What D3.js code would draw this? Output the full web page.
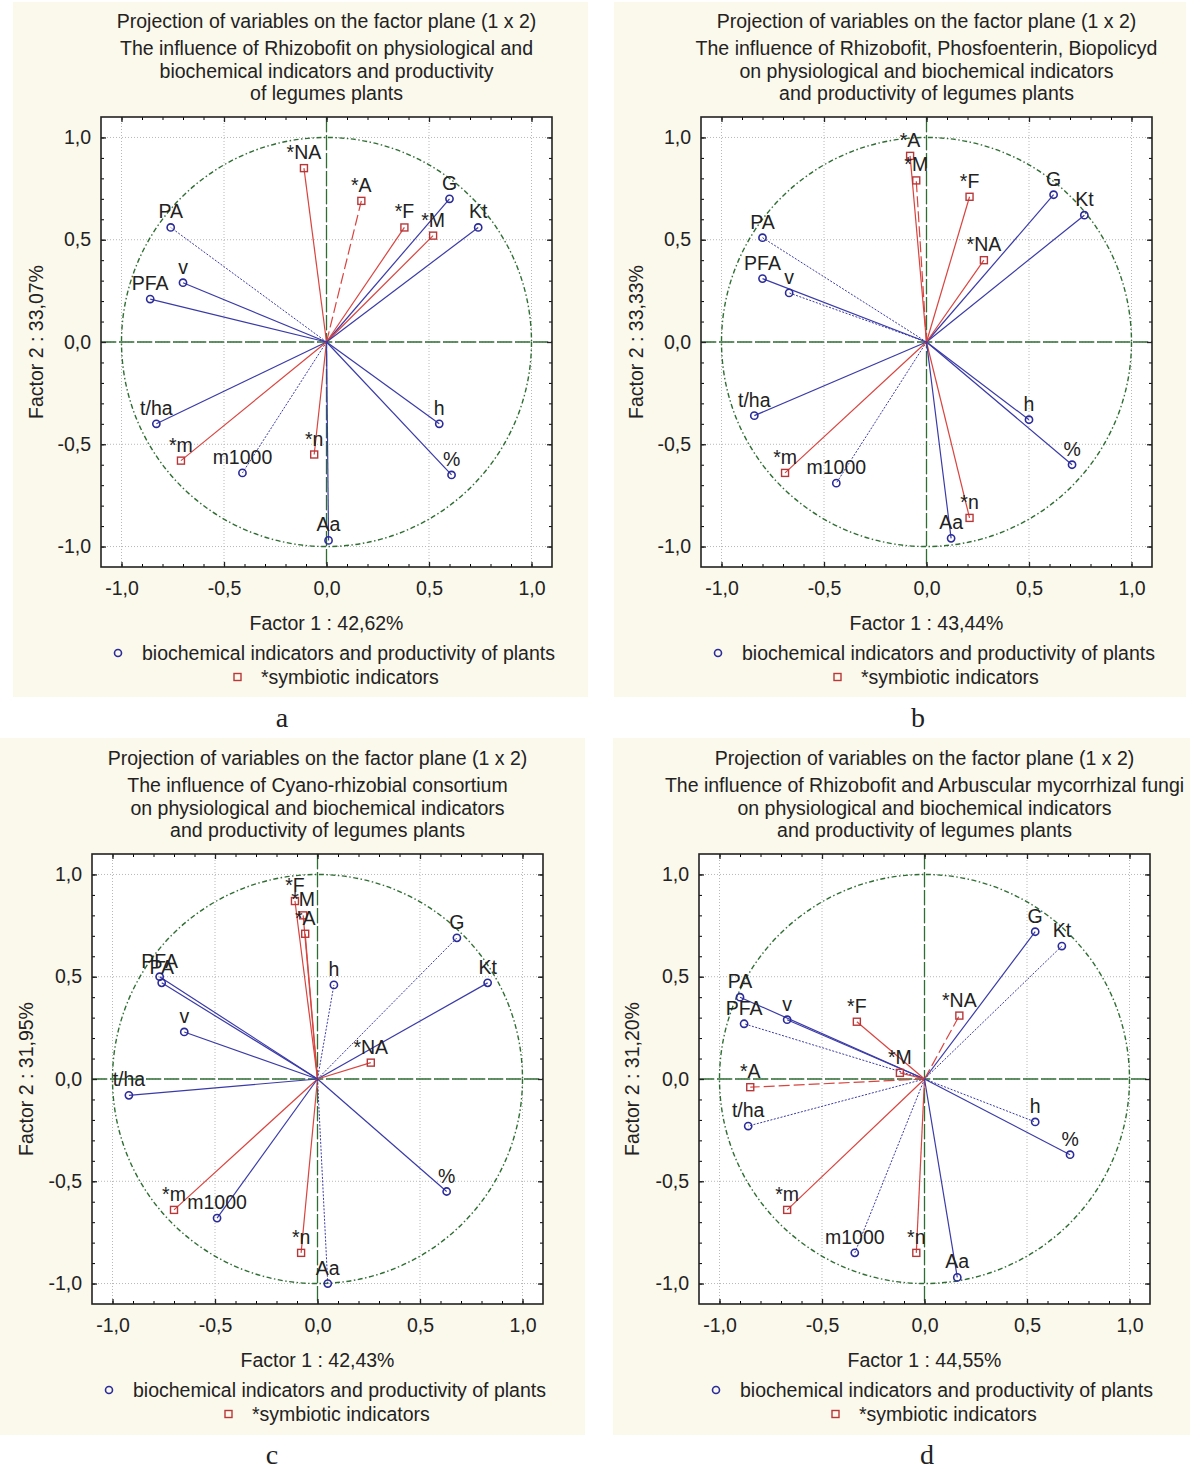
<!DOCTYPE html>
<html>
<head>
<meta charset="utf-8">
<script src="https://cdn.jsdelivr.net/npm/d3@7"></script>
<style>
  body { margin: 0; background: #fff; }
  svg text { font-family: "Liberation Sans", Arial, sans-serif; fill: #222; font-size: 19.5px; }
</style>
</head>
<body>
<svg id="chart" width="1200" height="1469"></svg>
<script>
const tickVals = [-1, -0.5, 0, 0.5, 1];
const legendText = ['biochemical indicators and productivity of plants', '*symbiotic indicators'];
const panelLetters = ['a', 'b', 'c', 'd'];

// a
const titlesA = ['Projection of variables on the factor plane (1 x 2)',
  'The influence of Rhizobofit on physiological and',
  'biochemical indicators and productivity',
  'of legumes plants'];
const axisA = ['Factor 1 : 42,62%', 'Factor 2 : 33,07%'];
const varsA = ['*NA', '*A', 'G', '*F', '*M', 'Kt', 'PA', 'v', 'PFA', 't/ha', '*m', 'm1000', '*n', 'Aa', 'h', '%'];
const f1A = [-0.11, 0.17, 0.60, 0.38, 0.52, 0.74, -0.76, -0.70, -0.86, -0.83, -0.71, -0.41, -0.06, 0.01, 0.55, 0.61];
const f2A = [0.85, 0.69, 0.70, 0.56, 0.52, 0.56, 0.56, 0.29, 0.21, -0.40, -0.58, -0.64, -0.55, -0.97, -0.40, -0.65];

// b
const titlesB = ['Projection of variables on the factor plane (1 x 2)',
  'The influence of Rhizobofit, Phosfoenterin, Biopolicyd',
  'on physiological and biochemical indicators',
  'and productivity of legumes plants'];
const axisB = ['Factor 1 : 43,44%', 'Factor 2 : 33,33%'];
const varsB = ['*A', '*M', '*F', 'G', 'Kt', '*NA', 'PA', 'PFA', 'v', 't/ha', '*m', 'm1000', 'h', '%', '*n', 'Aa'];
const f1B = [-0.08, -0.05, 0.21, 0.62, 0.77, 0.28, -0.80, -0.80, -0.67, -0.84, -0.69, -0.44, 0.50, 0.71, 0.21, 0.12];
const f2B = [0.91, 0.79, 0.71, 0.72, 0.62, 0.40, 0.51, 0.31, 0.24, -0.36, -0.64, -0.69, -0.38, -0.60, -0.86, -0.96];

// c
const titlesC = ['Projection of variables on the factor plane (1 x 2)',
  'The influence of Cyano-rhizobial consortium',
  'on physiological and biochemical indicators',
  'and productivity of legumes plants'];
const axisC = ['Factor 1 : 42,43%', 'Factor 2 : 31,95%'];
const varsC = ['*F', '*M', '*A', 'h', 'G', 'Kt', 'PFA', 'PA', 'v', '*NA', 't/ha', '*m', 'm1000', '*n', 'Aa', '%'];
const f1C = [-0.11, -0.07, -0.06, 0.08, 0.68, 0.83, -0.77, -0.76, -0.65, 0.26, -0.92, -0.70, -0.49, -0.08, 0.05, 0.63];
const f2C = [0.87, 0.80, 0.71, 0.46, 0.69, 0.47, 0.50, 0.47, 0.23, 0.08, -0.08, -0.64, -0.68, -0.85, -1.00, -0.55];

// d
const titlesD = ['Projection of variables on the factor plane (1 x 2)',
  'The influence of Rhizobofit and Arbuscular mycorrhizal fungi',
  'on physiological and biochemical indicators',
  'and productivity of legumes plants'];
const axisD = ['Factor 1 : 44,55%', 'Factor 2 : 31,20%'];
const varsD = ['G', 'Kt', 'PA', 'PFA', 'v', '*F', '*M', '*NA', '*A', 't/ha', 'h', '%', '*m', 'm1000', '*n', 'Aa'];
const f1D = [0.54, 0.67, -0.90, -0.88, -0.67, -0.33, -0.12, 0.17, -0.85, -0.86, 0.54, 0.71, -0.67, -0.34, -0.04, 0.16];
const f2D = [0.72, 0.65, 0.40, 0.27, 0.29, 0.28, 0.03, 0.31, -0.04, -0.23, -0.21, -0.37, -0.64, -0.85, -0.85, -0.97];

// line styles of the vectors (anything missing is solid)
const dashA = {'*A': 'dash', 'PA': 'dot', 'm1000': 'dot'};
const dashB = {'*M': 'dash', 'PA': 'dot', 'v': 'dot', 'm1000': 'dot'};
const dashC = {'G': 'dot', 'h': 'dot', 'Aa': 'dot'};
const dashD = {'Kt': 'dot', 'PFA': 'dot', 't/ha': 'dot', 'h': 'dot', 'm1000': 'dot', '*A': 'dash', '*NA': 'dash'};

const panels = [
  {titles: titlesA, axis: axisA, vars: varsA, f1: f1A, f2: f2A, dash: dashA,
   px: 101, py: 117, bg: [13, 2, 588, 697], yTitleX: 36, letterX: 282},
  {titles: titlesB, axis: axisB, vars: varsB, f1: f1B, f2: f2B, dash: dashB,
   px: 701, py: 117, bg: [614, 2, 1186, 697], yTitleX: 636, letterX: 918},
  {titles: titlesC, axis: axisC, vars: varsC, f1: f1C, f2: f2C, dash: dashC,
   px: 92, py: 854, bg: [0, 738, 585, 1435], yTitleX: 26, letterX: 272},
  {titles: titlesD, axis: axisD, vars: varsD, f1: f1D, f2: f2D, dash: dashD,
   px: 699, py: 854, bg: [613, 738, 1190, 1435], yTitleX: 632, letterX: 927}
];

const W = 451, H = 450;
const blue = '#3a3aa8', red = '#d9443f', green = '#2f6e33';
const dashes = {dash: '11,4', dot: '2,1.5'};
const fmt = v => v.toFixed(1).replace('.', ',');
const minor = d3.range(-10, 11).map(i => i / 10);

const svg = d3.select('#chart');

panels.forEach((p, pi) => {
  // background
  svg.append('rect')
    .attr('x', p.bg[0]).attr('y', p.bg[1])
    .attr('width', p.bg[2] - p.bg[0]).attr('height', p.bg[3] - p.bg[1])
    .attr('fill', '#fbf8ec');

  let g = svg.append('g').attr('transform', `translate(${p.px},${p.py})`);

  let x = d3.scaleLinear().domain([-1.1, 1.1]).range([0, W]);
  let y = d3.scaleLinear().domain([-1.1, 1.1]).range([H, 0]);

  // titles
  g.selectAll('text.title')
    .data(p.titles)
    .enter()
    .append('text')
      .attr('x', W / 2)
      .attr('y', (d, i) => [-89, -62, -39, -17][i])
      .attr('text-anchor', 'middle')
      .text(d => d);

  g.append('rect').attr('width', W).attr('height', H).attr('fill', '#fff');

  // grid
  g.selectAll('line.gx').data(tickVals).enter().append('line')
    .attr('x1', d => x(d)).attr('x2', d => x(d)).attr('y1', 0).attr('y2', H)
    .attr('stroke', '#b8b8b8').attr('stroke-dasharray', '1,2');
  g.selectAll('line.gy').data(tickVals).enter().append('line')
    .attr('y1', d => y(d)).attr('y2', d => y(d)).attr('x1', 0).attr('x2', W)
    .attr('stroke', '#b8b8b8').attr('stroke-dasharray', '1,2');

  // zero lines
  g.append('line').attr('x1', 0).attr('x2', W).attr('y1', y(0)).attr('y2', y(0))
    .attr('stroke', green).attr('stroke-width', 1.3).attr('stroke-dasharray', '15,3');
  g.append('line').attr('y1', 0).attr('y2', H).attr('x1', x(0)).attr('x2', x(0))
    .attr('stroke', green).attr('stroke-width', 1.3).attr('stroke-dasharray', '15,3');

  // unit circle
  g.append('ellipse')
    .attr('cx', x(0)).attr('cy', y(0))
    .attr('rx', x(1) - x(0)).attr('ry', y(0) - y(1))
    .attr('fill', 'none').attr('stroke', green).attr('stroke-width', 1.4)
    .attr('stroke-dasharray', '5,2.5,1.5,2.5');

  let idx = d3.range(p.vars.length);
  let isSym = i => p.vars[i][0] === '*';

  // vectors
  g.selectAll('line.vec')
    .data(idx)
    .enter()
    .append('line')
      .attr('x1', x(0)).attr('y1', y(0))
      .attr('x2', i => x(p.f1[i])).attr('y2', i => y(p.f2[i]))
      .attr('stroke', i => isSym(i) ? red : blue)
      .attr('stroke-width', i => p.dash[p.vars[i]] === 'dot' ? 1 : 1.2)
      .attr('stroke-dasharray', i => dashes[p.dash[p.vars[i]]] || null);

  // markers
  g.selectAll('circle.pt')
    .data(idx.filter(i => !isSym(i)))
    .enter()
    .append('circle')
      .attr('cx', i => x(p.f1[i])).attr('cy', i => y(p.f2[i]))
      .attr('r', 3.6)
      .attr('fill', 'none').attr('stroke', '#2b2b9a').attr('stroke-width', 1.6);
  g.selectAll('rect.pt')
    .data(idx.filter(i => isSym(i)))
    .enter()
    .append('rect')
      .attr('x', i => x(p.f1[i]) - 3.5).attr('y', i => y(p.f2[i]) - 3.5)
      .attr('width', 7).attr('height', 7)
      .attr('fill', 'none').attr('stroke', '#b8383a').attr('stroke-width', 1.4);

  g.selectAll('text.lbl')
    .data(idx)
    .enter()
    .append('text')
      .attr('x', i => x(p.f1[i]))
      .attr('y', i => y(p.f2[i]) - 9)
      .attr('text-anchor', 'middle')
      .text(i => p.vars[i]);

  // axes: minor and major ticks pointing inward
  let axes = [
    [d3.axisBottom(x), `translate(0,${H})`],
    [d3.axisTop(x), 'translate(0,0)'],
    [d3.axisLeft(y), 'translate(0,0)'],
    [d3.axisRight(y), `translate(${W},0)`]
  ];
  axes.forEach(([ax, tr]) => {
    g.append('g').attr('transform', tr)
      .call(ax.tickValues(minor).tickSize(-3).tickFormat(''))
      .call(s => s.select('.domain').remove());
  });
  axes.forEach(([ax, tr], ai) => {
    let a = ax.tickValues(tickVals).tickSize(-5).tickPadding(ai === 0 ? 14 : 10)
      .tickFormat(ai === 0 || ai === 2 ? fmt : '');
    g.append('g').attr('transform', tr)
      .call(a)
      .call(s => s.select('.domain').remove())
      .call(s => s.selectAll('text').style('font-size', '19.5px').attr('font-family', null).attr('fill', '#222'))
      .call(s => s.selectAll('line').attr('stroke', '#222').attr('stroke-width', 1.3));
  });

  g.append('rect').attr('width', W).attr('height', H)
    .attr('fill', 'none').attr('stroke', '#222').attr('stroke-width', 1.6);

  // axis titles
  g.append('text')
    .attr('x', W / 2).attr('y', 513)
    .attr('text-anchor', 'middle')
    .text(p.axis[0]);
  g.append('text')
    .attr('transform', `translate(${p.yTitleX - p.px + 7},${y(0)}) rotate(-90)`)
    .attr('text-anchor', 'middle')
    .text(p.axis[1]);

  // legend
  let lg = g.append('g');
  lg.append('circle').attr('cx', 17).attr('cy', 536).attr('r', 3.5)
    .attr('fill', 'none').attr('stroke', '#2b2b9a').attr('stroke-width', 1.6);
  lg.append('text').attr('x', 41).attr('y', 543).text(legendText[0]);
  lg.append('rect').attr('x', 133).attr('y', 556.5).attr('width', 7).attr('height', 7)
    .attr('fill', 'none').attr('stroke', '#b8383a').attr('stroke-width', 1.4);
  lg.append('text').attr('x', 160).attr('y', 567).text(legendText[1]);

  // panel letter
  svg.append('text')
    .attr('x', p.letterX).attr('y', p.py + 610)
    .attr('text-anchor', 'middle')
    .style('font-family', '"Liberation Serif", "Times New Roman", serif')
    .style('font-size', '28px')
    .attr('fill', '#111')
    .text(panelLetters[pi]);
});
</script>
</body>
</html>
